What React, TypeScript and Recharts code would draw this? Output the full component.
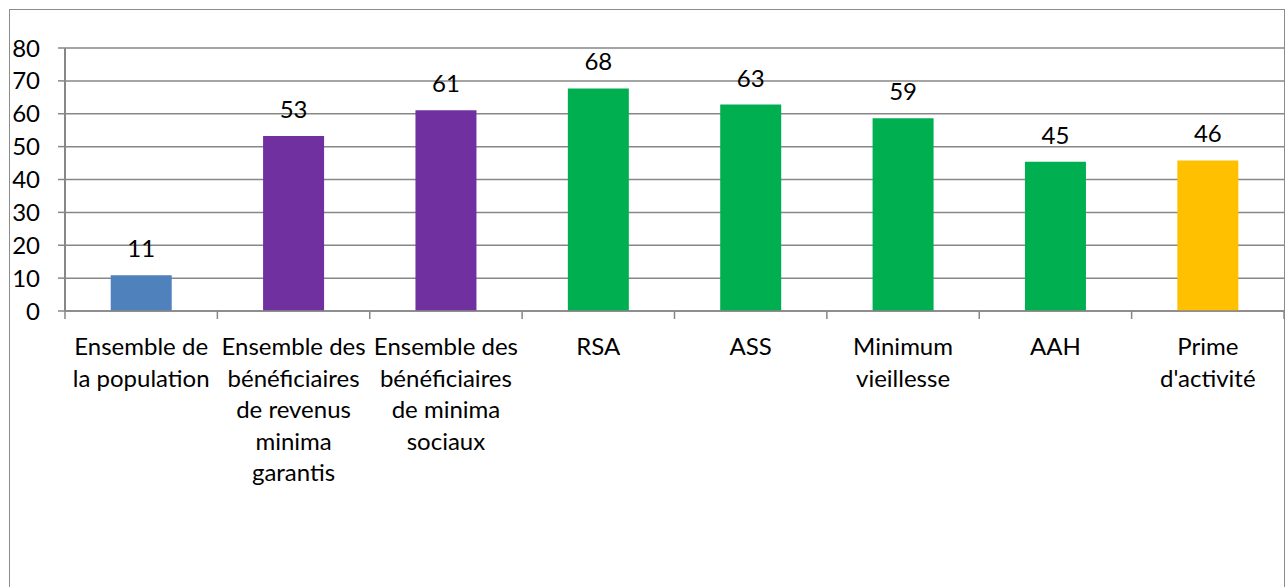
import React from "react";
import { BarChart, Bar, XAxis, YAxis, CartesianGrid, Cell, LabelList } from "recharts";

const categories = [
  "Ensemble de la population",
  "Ensemble des bénéficiaires de revenus minima garantis",
  "Ensemble des bénéficiaires de minima sociaux",
  "RSA",
  "ASS",
  "Minimum vieillesse",
  "AAH",
  "Prime d'activité",
];
const categoryLines = [
  ["Ensemble de", "la population"],
  ["Ensemble des", "bénéficiaires", "de revenus", "minima", "garantis"],
  ["Ensemble des", "bénéficiaires", "de minima", "sociaux"],
  ["RSA"],
  ["ASS"],
  ["Minimum", "vieillesse"],
  ["AAH"],
  ["Prime", "d'activité"],
];
const values = [10.9, 53.2, 61.1, 67.7, 62.8, 58.6, 45.4, 45.8];
const colors = ["#4F81BD", "#7030A0", "#7030A0", "#00B050", "#00B050", "#00B050", "#00B050", "#FFC000"];
const yTicks = [0, 10, 20, 30, 40, 50, 60, 70, 80];

const data = categories.map((c, i) => ({ name: c, value: values[i], idx: i }));

const FONT = "Lato, 'Open Sans', sans-serif";
const GREY = "#878787";

const XTick = (props: any) => {
  const { x, y, payload, index } = props;
  const half = payload && payload.offset ? payload.offset : 76.2;
  const lines = categoryLines[index] || [payload.value];
  const last = index === categories.length - 1;
  return (
    <g>
      <line x1={x - half} x2={x - half} y1={y - 8} y2={y} stroke={GREY} strokeWidth={1.5} />
      {last && <line x1={x + half} x2={x + half} y1={y - 8} y2={y} stroke={GREY} strokeWidth={1.5} />}
      <text x={x} y={y + 36} textAnchor="middle" fill="#000" fontSize={24} fontFamily={FONT}>
        {lines.map((l: string, i: number) => (
          <tspan key={i} x={x} dy={i === 0 ? 0 : 31.5}>
            {l}
          </tspan>
        ))}
      </text>
    </g>
  );
};

export default function App() {
  return (
    <div style={{ position: "absolute", left: 0, top: 0, width: 1288, height: 587, overflow: "hidden", background: "#fff" }}>
      <div
        style={{
          position: "absolute",
          left: 9,
          top: 9,
          width: 1276,
          height: 620,
          border: "1.5px solid #8c8c8c",
          boxSizing: "border-box",
        }}
      />
      <div style={{ position: "absolute", left: 0, top: 0 }}>
        <BarChart
          width={1288}
          height={587}
          data={data}
          margin={{ top: 48, right: 4, bottom: 0, left: 0 }}
          barCategoryGap="30%"
        >
          <CartesianGrid horizontal={true} vertical={false} stroke={GREY} strokeWidth={1.5} />
          <XAxis
            dataKey="name"
            height={276}
            interval={0}
            axisLine={{ stroke: GREY, strokeWidth: 1.5 }}
            tickLine={false}
            tick={<XTick />}
          />
          <YAxis
            width={65}
            domain={[0, 80]}
            ticks={yTicks}
            interval={0}
            axisLine={{ stroke: GREY, strokeWidth: 2 }}
            tickLine={{ stroke: GREY, strokeWidth: 1.5 }}
            tickSize={7}
            tickMargin={18}
            tick={{ fill: "#000", fontSize: 24, fontFamily: FONT }}
          />
          <Bar dataKey="value" isAnimationActive={false}>
            {data.map((d, i) => (
              <Cell key={i} fill={colors[i]} />
            ))}
            <LabelList
              dataKey="value"
              position="top"
              offset={18}
              formatter={(v: any) => Math.round(Number(v))}
              style={{ fill: "#000", fontSize: 24, fontFamily: FONT }}
            />
          </Bar>
        </BarChart>
      </div>
    </div>
  );
}
